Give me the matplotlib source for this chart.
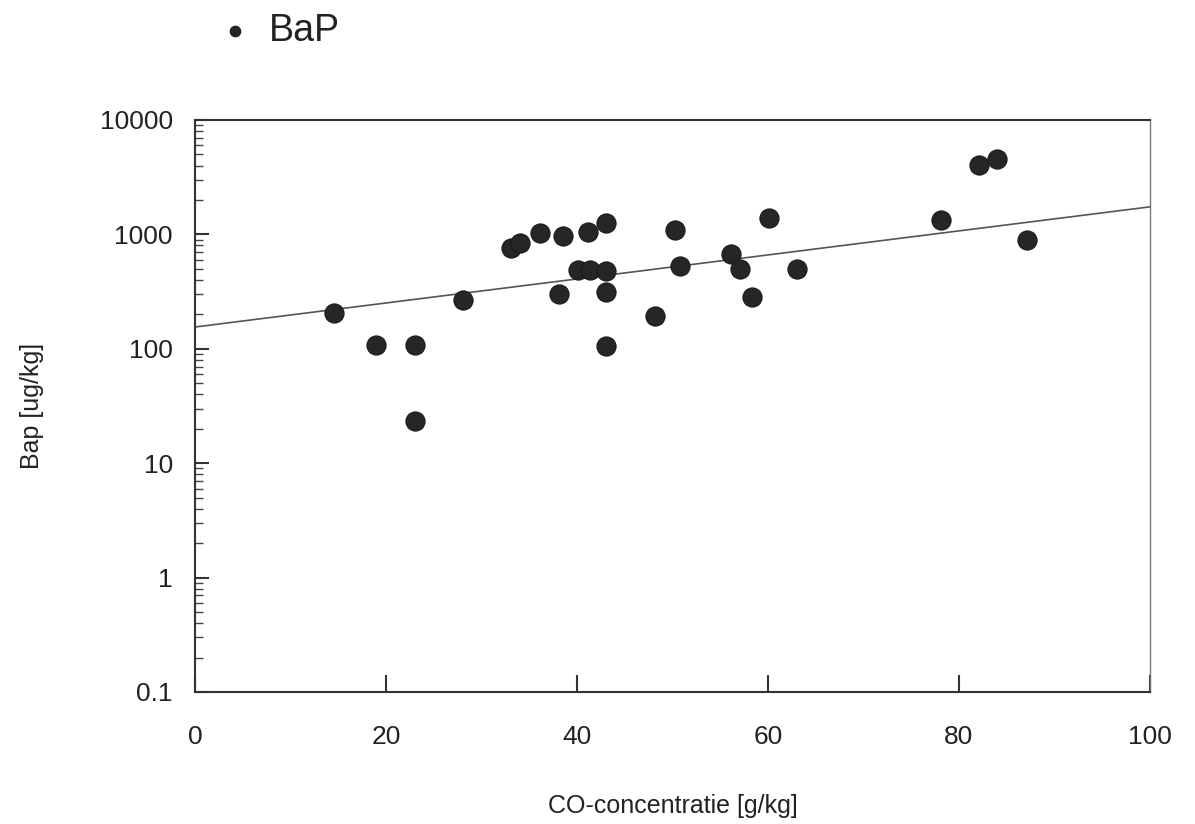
import numpy as np
import matplotlib
matplotlib.use('Agg')
import matplotlib.pyplot as plt
from matplotlib.ticker import LogLocator, NullFormatter

# data
co_conc = [14.6, 19.0, 23.0, 23.0, 28.1, 33.1, 34.0, 36.1, 38.5, 38.1,
           41.2, 40.1, 41.4, 43.0, 43.0, 43.0, 43.0, 48.2, 50.3, 50.8,
           56.1, 57.1, 58.3, 60.1, 63.0, 78.1, 82.1, 84.0, 87.1]
bap = [206, 108, 108, 23.4, 267, 760, 841, 1028, 968, 301,
       1050, 489, 489, 1259, 480, 314, 105, 194, 1091, 530,
       674, 499, 284, 1390, 499, 1337, 4047, 4560, 893]

# regression line as drawn in the picture
fit_x = [0, 100]
fit_y = [155, 1740]

x_ticks = [0, 20, 40, 60, 80, 100]
y_ticks = [0.1, 1, 10, 100, 1000, 10000]
y_labels = ['0.1', '1', '10', '100', '1000', '10000']

plt.rcParams['font.family'] = ['Liberation Sans', 'DejaVu Sans']

fig = plt.figure(figsize=(11.95, 8.24), dpi=100)
ax = fig.add_axes([0.1632, 0.1602, 0.7991, 0.6942])

ax.plot(fit_x, fit_y, color='#555555', linewidth=1.2, zorder=2)
sc = ax.scatter(co_conc, bap, s=190, color='#262626', edgecolors='#1a1a1a',
                linewidths=0.8, zorder=3, label='BaP')

ax.set_yscale('log')
ax.set_xlim(0, 100)
ax.set_ylim(0.1, 10000)

ax.set_xticks(x_ticks)
ax.set_xticklabels([str(t) for t in x_ticks])
ax.set_yticks(y_ticks)
ax.set_yticklabels(y_labels)
ax.yaxis.set_minor_locator(LogLocator(base=10, subs=np.arange(2, 10)))
ax.yaxis.set_minor_formatter(NullFormatter())

ax.tick_params(axis='x', which='major', direction='in', length=12, width=1.5,
               pad=24, labelsize=19, colors='#333333', labelcolor='#222222')
ax.tick_params(axis='y', which='major', direction='in', length=10, width=1.5,
               pad=16, labelsize=19, colors='#333333', labelcolor='#222222')
ax.tick_params(axis='y', which='minor', direction='in', length=6, width=1.0,
               colors='#444444')
ax.tick_params(top=False, right=False)

for sp in ax.spines.values():
    sp.set_color('#333333')
    sp.set_linewidth(1.5)
ax.spines['right'].set_linewidth(1.0)
ax.spines['right'].set_color('#777777')

ax.set_xlabel('CO-concentratie [g/kg]', fontsize=18, labelpad=32, color='#222222')
ax.set_ylabel('Bap [ug/kg]', fontsize=18, labelpad=40, color='#222222')

fig.legend(handles=[sc], labels=['BaP'], loc='center left',
           bbox_to_anchor=(0.184, 0.962), frameon=False, fontsize=27,
           markerscale=0.55, handlelength=0.8, handletextpad=0.5,
           borderpad=0, borderaxespad=0, labelcolor='#222222')

fig.savefig('out.png', dpi=100, facecolor='white')
